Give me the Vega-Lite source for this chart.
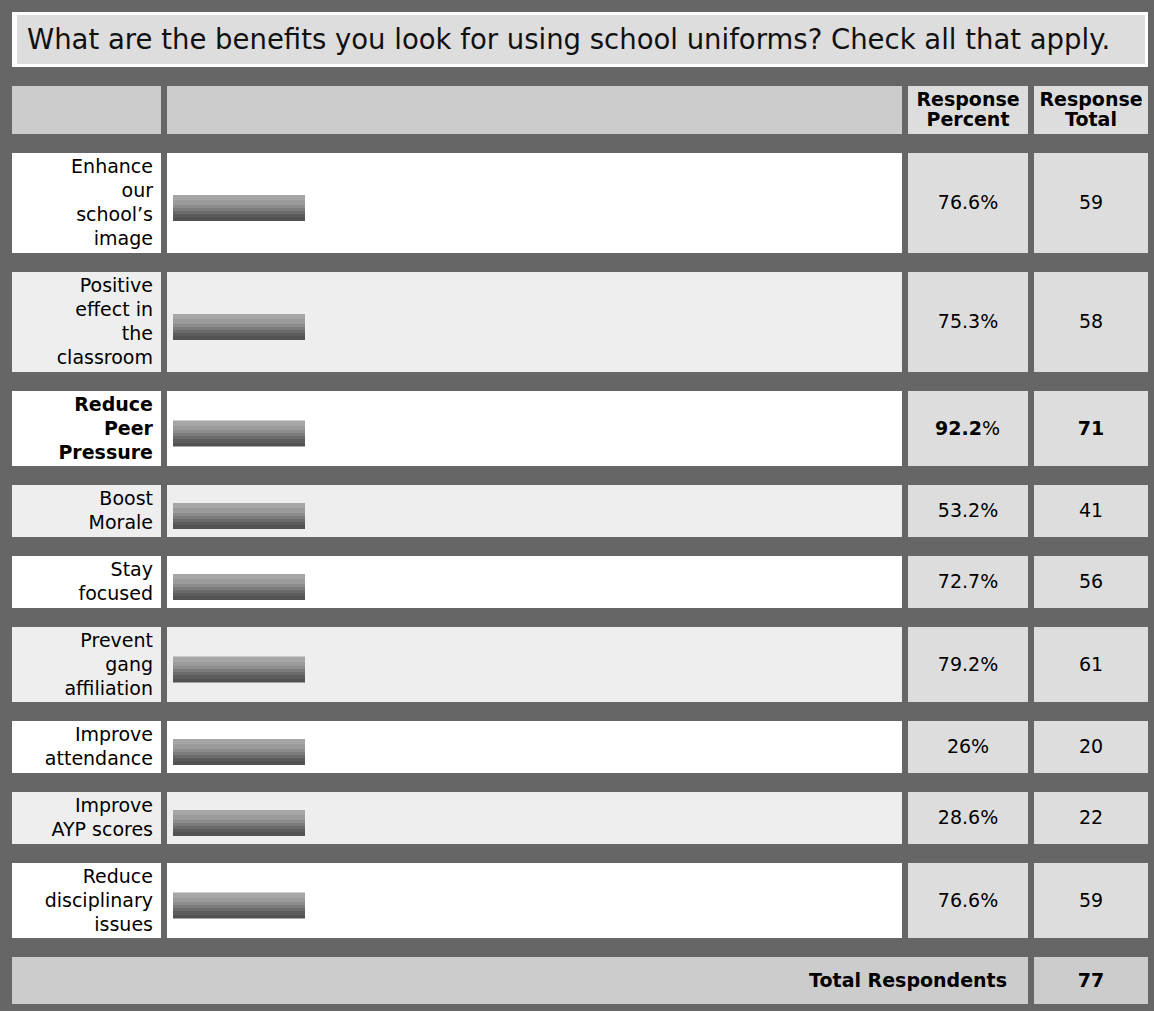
{
  "$schema": "https://vega.github.io/schema/vega-lite/v6.json",
  "background": "#666666",
  "padding": {"left": 12, "top": 12, "right": 6, "bottom": 7},
  "config": {
    "view": {"stroke": null},
    "font": "DejaVu Sans",
    "text": {"font": "DejaVu Sans", "color": "#000000", "fontSize": 19},
    "locale": {"number": {"decimal": ".", "thousands": ",", "grouping": [3], "currency": ["", "%"]}}
  },
  "datasets": {
    "responses": [
      {"order": 1, "answer": "Enhance\nour\nschool’s\nimage", "percent": 76.6, "total": 59},
      {"order": 2, "answer": "Positive\neffect in\nthe\nclassroom", "percent": 75.3, "total": 58},
      {"order": 3, "answer": "Reduce\nPeer\nPressure", "percent": 92.2, "total": 71},
      {"order": 4, "answer": "Boost\nMorale", "percent": 53.2, "total": 41},
      {"order": 5, "answer": "Stay\nfocused", "percent": 72.7, "total": 56},
      {"order": 6, "answer": "Prevent\ngang\naffiliation", "percent": 79.2, "total": 61},
      {"order": 7, "answer": "Improve\nattendance", "percent": 26, "total": 20},
      {"order": 8, "answer": "Improve\nAYP scores", "percent": 28.6, "total": 22},
      {"order": 9, "answer": "Reduce\ndisciplinary\nissues", "percent": 76.6, "total": 59}
    ],
    "summary": [{"label": "Total Respondents", "value": 77}],
    "question": [{"text": "What are the benefits you look for using school uniforms? Check all that apply."}]
  },
  "spacing": 19,
  "vconcat": [
    {"width": 1136, "height": 55, "view": {"fill": "#ffffff", "stroke": null},
     "data": {"name": "question"},
     "layer": [
       {"mark": {"type": "rect", "color": "#dddddd"},
        "encoding": {"x": {"datum": 5, "type": "quantitative", "scale": {"domain": [0, 1136], "nice": false, "zero": false}, "axis": null}, "x2": {"datum": 1133},
                     "y": {"datum": 3, "type": "quantitative", "scale": {"domain": [0, 55], "nice": false, "zero": false, "reverse": true}, "axis": null}, "y2": {"datum": 52}}},
       {"mark": {"type": "text", "align": "left", "baseline": "middle", "fontSize": 27.5, "color": "#111111"},
        "encoding": {"text": {"field": "text", "type": "nominal"},
          "x": {"datum": 15, "type": "quantitative"},
          "y": {"datum": 29, "type": "quantitative"}}}
     ]},
    {"spacing": 6, "hconcat": [
      {"width": 149, "height": 48, "view": {"fill": "#cccccc", "stroke": null}, "data": {"values": [{}]}, "mark": {"type": "text", "text": ""}, "encoding": {"x": {"datum": 0.5, "type": "quantitative", "scale": {"domain": [0, 1]}, "axis": null}, "y": {"datum": 0.5, "type": "quantitative", "scale": {"domain": [0, 1]}, "axis": null}}},
      {"width": 735, "height": 48, "view": {"fill": "#cccccc", "stroke": null}, "data": {"values": [{}]}, "mark": {"type": "text", "text": ""}, "encoding": {"x": {"datum": 0.5, "type": "quantitative", "scale": {"domain": [0, 1]}, "axis": null}, "y": {"datum": 0.5, "type": "quantitative", "scale": {"domain": [0, 1]}, "axis": null}}},
      {"width": 120, "height": 48, "view": {"fill": "#dddddd", "stroke": null}, "data": {"values": [{}]}, "mark": {"type": "text", "text": "Response\nPercent", "lineBreak": "\n", "lineHeight": 20, "dy": -10, "fontSize": 19, "fontWeight": "bold", "align": "center", "baseline": "middle"}, "encoding": {"x": {"datum": 0.5, "type": "quantitative", "scale": {"domain": [0, 1]}, "axis": null}, "y": {"datum": 0.5, "type": "quantitative", "scale": {"domain": [0, 1]}, "axis": null}}},
      {"width": 114, "height": 48, "view": {"fill": "#dddddd", "stroke": null}, "data": {"values": [{}]}, "mark": {"type": "text", "text": "Response\nTotal", "lineBreak": "\n", "lineHeight": 20, "dy": -10, "fontSize": 19, "fontWeight": "bold", "align": "center", "baseline": "middle"}, "encoding": {"x": {"datum": 0.5, "type": "quantitative", "scale": {"domain": [0, 1]}, "axis": null}, "y": {"datum": 0.5, "type": "quantitative", "scale": {"domain": [0, 1]}, "axis": null}}}
    ]},
    {"spacing": 6, "hconcat": [
      {"width": 149, "height": 100, "view": {"fill": "#ffffff", "stroke": null}, "data": {"name": "responses"}, "transform": [{"filter": "datum.order == 1"}], "mark": {"type": "text", "align": "right", "baseline": "middle", "dx": -8, "dy": -36, "lineBreak": "\n", "lineHeight": 24}, "encoding": {"text": {"field": "answer", "type": "nominal"}, "x": {"datum": 1, "type": "quantitative", "scale": {"domain": [0, 1]}, "axis": null}, "y": {"datum": 0.5, "type": "quantitative", "scale": {"domain": [0, 1]}, "axis": null}}},
      {"width": 735, "height": 100, "view": {"fill": "#ffffff", "stroke": null}, "data": {"name": "responses"}, "transform": [{"filter": "datum.order == 1"}], "mark": {"type": "rect", "color": {"gradient": "linear", "x1": 0, "y1": 0, "x2": 0, "y2": 1, "stops": [{"offset": 0, "color": "#a6a6a6"}, {"offset": 0.2, "color": "#a6a6a6"}, {"offset": 0.2, "color": "#9b9b9b"}, {"offset": 0.37, "color": "#9b9b9b"}, {"offset": 0.37, "color": "#8d8d8d"}, {"offset": 0.5, "color": "#8d8d8d"}, {"offset": 0.5, "color": "#7c7c7c"}, {"offset": 0.6, "color": "#7c7c7c"}, {"offset": 0.6, "color": "#6b6b6b"}, {"offset": 0.72, "color": "#6b6b6b"}, {"offset": 0.72, "color": "#5c5c5c"}, {"offset": 0.85, "color": "#5c5c5c"}, {"offset": 0.85, "color": "#525252"}, {"offset": 1, "color": "#525252"}]}}, "encoding": {"x": {"datum": 0, "type": "quantitative", "scale": {"domain": [0, 1], "range": [6, 138]}, "axis": null}, "x2": {"datum": 1}, "y": {"datum": 0.42, "type": "quantitative", "scale": {"domain": [0, 1], "reverse": true}, "axis": null}, "y2": {"datum": 0.68}}},
      {"width": 120, "height": 100, "view": {"fill": "#dddddd", "stroke": null}, "data": {"name": "responses"}, "transform": [{"filter": "datum.order == 1"}], "mark": {"type": "text", "align": "center", "baseline": "middle"}, "encoding": {"text": {"field": "percent", "type": "quantitative", "format": "$.1~f"}, "x": {"datum": 0.5, "type": "quantitative", "scale": {"domain": [0, 1]}, "axis": null}, "y": {"datum": 0.5, "type": "quantitative", "scale": {"domain": [0, 1]}, "axis": null}}},
      {"width": 114, "height": 100, "view": {"fill": "#dddddd", "stroke": null}, "data": {"name": "responses"}, "transform": [{"filter": "datum.order == 1"}], "mark": {"type": "text", "align": "center", "baseline": "middle"}, "encoding": {"text": {"field": "total", "type": "quantitative"}, "x": {"datum": 0.5, "type": "quantitative", "scale": {"domain": [0, 1]}, "axis": null}, "y": {"datum": 0.5, "type": "quantitative", "scale": {"domain": [0, 1]}, "axis": null}}}
    ]},
    {"spacing": 6, "hconcat": [
      {"width": 149, "height": 100, "view": {"fill": "#eeeeee", "stroke": null}, "data": {"name": "responses"}, "transform": [{"filter": "datum.order == 2"}], "mark": {"type": "text", "align": "right", "baseline": "middle", "dx": -8, "dy": -36, "lineBreak": "\n", "lineHeight": 24}, "encoding": {"text": {"field": "answer", "type": "nominal"}, "x": {"datum": 1, "type": "quantitative", "scale": {"domain": [0, 1]}, "axis": null}, "y": {"datum": 0.5, "type": "quantitative", "scale": {"domain": [0, 1]}, "axis": null}}},
      {"width": 735, "height": 100, "view": {"fill": "#eeeeee", "stroke": null}, "data": {"name": "responses"}, "transform": [{"filter": "datum.order == 2"}], "mark": {"type": "rect", "color": {"gradient": "linear", "x1": 0, "y1": 0, "x2": 0, "y2": 1, "stops": [{"offset": 0, "color": "#a6a6a6"}, {"offset": 0.2, "color": "#a6a6a6"}, {"offset": 0.2, "color": "#9b9b9b"}, {"offset": 0.37, "color": "#9b9b9b"}, {"offset": 0.37, "color": "#8d8d8d"}, {"offset": 0.5, "color": "#8d8d8d"}, {"offset": 0.5, "color": "#7c7c7c"}, {"offset": 0.6, "color": "#7c7c7c"}, {"offset": 0.6, "color": "#6b6b6b"}, {"offset": 0.72, "color": "#6b6b6b"}, {"offset": 0.72, "color": "#5c5c5c"}, {"offset": 0.85, "color": "#5c5c5c"}, {"offset": 0.85, "color": "#525252"}, {"offset": 1, "color": "#525252"}]}}, "encoding": {"x": {"datum": 0, "type": "quantitative", "scale": {"domain": [0, 1], "range": [6, 138]}, "axis": null}, "x2": {"datum": 1}, "y": {"datum": 0.42, "type": "quantitative", "scale": {"domain": [0, 1], "reverse": true}, "axis": null}, "y2": {"datum": 0.68}}},
      {"width": 120, "height": 100, "view": {"fill": "#dddddd", "stroke": null}, "data": {"name": "responses"}, "transform": [{"filter": "datum.order == 2"}], "mark": {"type": "text", "align": "center", "baseline": "middle"}, "encoding": {"text": {"field": "percent", "type": "quantitative", "format": "$.1~f"}, "x": {"datum": 0.5, "type": "quantitative", "scale": {"domain": [0, 1]}, "axis": null}, "y": {"datum": 0.5, "type": "quantitative", "scale": {"domain": [0, 1]}, "axis": null}}},
      {"width": 114, "height": 100, "view": {"fill": "#dddddd", "stroke": null}, "data": {"name": "responses"}, "transform": [{"filter": "datum.order == 2"}], "mark": {"type": "text", "align": "center", "baseline": "middle"}, "encoding": {"text": {"field": "total", "type": "quantitative"}, "x": {"datum": 0.5, "type": "quantitative", "scale": {"domain": [0, 1]}, "axis": null}, "y": {"datum": 0.5, "type": "quantitative", "scale": {"domain": [0, 1]}, "axis": null}}}
    ]},
    {"spacing": 6, "hconcat": [
      {"width": 149, "height": 75, "view": {"fill": "#ffffff", "stroke": null}, "data": {"name": "responses"}, "transform": [{"filter": "datum.order == 3"}], "mark": {"type": "text", "align": "right", "baseline": "middle", "dx": -8, "dy": -24, "lineBreak": "\n", "lineHeight": 24, "fontWeight": "bold"}, "encoding": {"text": {"field": "answer", "type": "nominal"}, "x": {"datum": 1, "type": "quantitative", "scale": {"domain": [0, 1]}, "axis": null}, "y": {"datum": 0.5, "type": "quantitative", "scale": {"domain": [0, 1]}, "axis": null}}},
      {"width": 735, "height": 75, "view": {"fill": "#ffffff", "stroke": null}, "data": {"name": "responses"}, "transform": [{"filter": "datum.order == 3"}], "mark": {"type": "rect", "color": {"gradient": "linear", "x1": 0, "y1": 0, "x2": 0, "y2": 1, "stops": [{"offset": 0, "color": "#a6a6a6"}, {"offset": 0.2, "color": "#a6a6a6"}, {"offset": 0.2, "color": "#9b9b9b"}, {"offset": 0.37, "color": "#9b9b9b"}, {"offset": 0.37, "color": "#8d8d8d"}, {"offset": 0.5, "color": "#8d8d8d"}, {"offset": 0.5, "color": "#7c7c7c"}, {"offset": 0.6, "color": "#7c7c7c"}, {"offset": 0.6, "color": "#6b6b6b"}, {"offset": 0.72, "color": "#6b6b6b"}, {"offset": 0.72, "color": "#5c5c5c"}, {"offset": 0.85, "color": "#5c5c5c"}, {"offset": 0.85, "color": "#525252"}, {"offset": 1, "color": "#525252"}]}}, "encoding": {"x": {"datum": 0, "type": "quantitative", "scale": {"domain": [0, 1], "range": [6, 138]}, "axis": null}, "x2": {"datum": 1}, "y": {"datum": 0.3933, "type": "quantitative", "scale": {"domain": [0, 1], "reverse": true}, "axis": null}, "y2": {"datum": 0.74}}},
      {"width": 120, "height": 75, "view": {"fill": "#dddddd", "stroke": null}, "data": {"name": "responses"}, "transform": [{"filter": "datum.order == 3"}], "encoding": {"x": {"datum": 0.5, "type": "quantitative", "scale": {"domain": [0, 1]}, "axis": null}, "y": {"datum": 0.5, "type": "quantitative", "scale": {"domain": [0, 1]}, "axis": null}}, "layer": [
        {"mark": {"type": "text", "align": "right", "baseline": "middle", "dx": 14, "fontWeight": "bold"}, "encoding": {"text": {"field": "percent", "type": "quantitative", "format": ".1~f"}}},
        {"mark": {"type": "text", "align": "left", "baseline": "middle", "dx": 14, "text": "%"}, "encoding": {}}
      ]},
      {"width": 114, "height": 75, "view": {"fill": "#dddddd", "stroke": null}, "data": {"name": "responses"}, "transform": [{"filter": "datum.order == 3"}], "mark": {"type": "text", "align": "center", "baseline": "middle", "fontWeight": "bold"}, "encoding": {"text": {"field": "total", "type": "quantitative"}, "x": {"datum": 0.5, "type": "quantitative", "scale": {"domain": [0, 1]}, "axis": null}, "y": {"datum": 0.5, "type": "quantitative", "scale": {"domain": [0, 1]}, "axis": null}}}
    ]},
    {"spacing": 6, "hconcat": [
      {"width": 149, "height": 52, "view": {"fill": "#eeeeee", "stroke": null}, "data": {"name": "responses"}, "transform": [{"filter": "datum.order == 4"}], "mark": {"type": "text", "align": "right", "baseline": "middle", "dx": -8, "dy": -12, "lineBreak": "\n", "lineHeight": 24}, "encoding": {"text": {"field": "answer", "type": "nominal"}, "x": {"datum": 1, "type": "quantitative", "scale": {"domain": [0, 1]}, "axis": null}, "y": {"datum": 0.5, "type": "quantitative", "scale": {"domain": [0, 1]}, "axis": null}}},
      {"width": 735, "height": 52, "view": {"fill": "#eeeeee", "stroke": null}, "data": {"name": "responses"}, "transform": [{"filter": "datum.order == 4"}], "mark": {"type": "rect", "color": {"gradient": "linear", "x1": 0, "y1": 0, "x2": 0, "y2": 1, "stops": [{"offset": 0, "color": "#a6a6a6"}, {"offset": 0.2, "color": "#a6a6a6"}, {"offset": 0.2, "color": "#9b9b9b"}, {"offset": 0.37, "color": "#9b9b9b"}, {"offset": 0.37, "color": "#8d8d8d"}, {"offset": 0.5, "color": "#8d8d8d"}, {"offset": 0.5, "color": "#7c7c7c"}, {"offset": 0.6, "color": "#7c7c7c"}, {"offset": 0.6, "color": "#6b6b6b"}, {"offset": 0.72, "color": "#6b6b6b"}, {"offset": 0.72, "color": "#5c5c5c"}, {"offset": 0.85, "color": "#5c5c5c"}, {"offset": 0.85, "color": "#525252"}, {"offset": 1, "color": "#525252"}]}}, "encoding": {"x": {"datum": 0, "type": "quantitative", "scale": {"domain": [0, 1], "range": [6, 138]}, "axis": null}, "x2": {"datum": 1}, "y": {"datum": 0.3462, "type": "quantitative", "scale": {"domain": [0, 1], "reverse": true}, "axis": null}, "y2": {"datum": 0.8462}}},
      {"width": 120, "height": 52, "view": {"fill": "#dddddd", "stroke": null}, "data": {"name": "responses"}, "transform": [{"filter": "datum.order == 4"}], "mark": {"type": "text", "align": "center", "baseline": "middle"}, "encoding": {"text": {"field": "percent", "type": "quantitative", "format": "$.1~f"}, "x": {"datum": 0.5, "type": "quantitative", "scale": {"domain": [0, 1]}, "axis": null}, "y": {"datum": 0.5, "type": "quantitative", "scale": {"domain": [0, 1]}, "axis": null}}},
      {"width": 114, "height": 52, "view": {"fill": "#dddddd", "stroke": null}, "data": {"name": "responses"}, "transform": [{"filter": "datum.order == 4"}], "mark": {"type": "text", "align": "center", "baseline": "middle"}, "encoding": {"text": {"field": "total", "type": "quantitative"}, "x": {"datum": 0.5, "type": "quantitative", "scale": {"domain": [0, 1]}, "axis": null}, "y": {"datum": 0.5, "type": "quantitative", "scale": {"domain": [0, 1]}, "axis": null}}}
    ]},
    {"spacing": 6, "hconcat": [
      {"width": 149, "height": 52, "view": {"fill": "#ffffff", "stroke": null}, "data": {"name": "responses"}, "transform": [{"filter": "datum.order == 5"}], "mark": {"type": "text", "align": "right", "baseline": "middle", "dx": -8, "dy": -12, "lineBreak": "\n", "lineHeight": 24}, "encoding": {"text": {"field": "answer", "type": "nominal"}, "x": {"datum": 1, "type": "quantitative", "scale": {"domain": [0, 1]}, "axis": null}, "y": {"datum": 0.5, "type": "quantitative", "scale": {"domain": [0, 1]}, "axis": null}}},
      {"width": 735, "height": 52, "view": {"fill": "#ffffff", "stroke": null}, "data": {"name": "responses"}, "transform": [{"filter": "datum.order == 5"}], "mark": {"type": "rect", "color": {"gradient": "linear", "x1": 0, "y1": 0, "x2": 0, "y2": 1, "stops": [{"offset": 0, "color": "#a6a6a6"}, {"offset": 0.2, "color": "#a6a6a6"}, {"offset": 0.2, "color": "#9b9b9b"}, {"offset": 0.37, "color": "#9b9b9b"}, {"offset": 0.37, "color": "#8d8d8d"}, {"offset": 0.5, "color": "#8d8d8d"}, {"offset": 0.5, "color": "#7c7c7c"}, {"offset": 0.6, "color": "#7c7c7c"}, {"offset": 0.6, "color": "#6b6b6b"}, {"offset": 0.72, "color": "#6b6b6b"}, {"offset": 0.72, "color": "#5c5c5c"}, {"offset": 0.85, "color": "#5c5c5c"}, {"offset": 0.85, "color": "#525252"}, {"offset": 1, "color": "#525252"}]}}, "encoding": {"x": {"datum": 0, "type": "quantitative", "scale": {"domain": [0, 1], "range": [6, 138]}, "axis": null}, "x2": {"datum": 1}, "y": {"datum": 0.3462, "type": "quantitative", "scale": {"domain": [0, 1], "reverse": true}, "axis": null}, "y2": {"datum": 0.8462}}},
      {"width": 120, "height": 52, "view": {"fill": "#dddddd", "stroke": null}, "data": {"name": "responses"}, "transform": [{"filter": "datum.order == 5"}], "mark": {"type": "text", "align": "center", "baseline": "middle"}, "encoding": {"text": {"field": "percent", "type": "quantitative", "format": "$.1~f"}, "x": {"datum": 0.5, "type": "quantitative", "scale": {"domain": [0, 1]}, "axis": null}, "y": {"datum": 0.5, "type": "quantitative", "scale": {"domain": [0, 1]}, "axis": null}}},
      {"width": 114, "height": 52, "view": {"fill": "#dddddd", "stroke": null}, "data": {"name": "responses"}, "transform": [{"filter": "datum.order == 5"}], "mark": {"type": "text", "align": "center", "baseline": "middle"}, "encoding": {"text": {"field": "total", "type": "quantitative"}, "x": {"datum": 0.5, "type": "quantitative", "scale": {"domain": [0, 1]}, "axis": null}, "y": {"datum": 0.5, "type": "quantitative", "scale": {"domain": [0, 1]}, "axis": null}}}
    ]},
    {"spacing": 6, "hconcat": [
      {"width": 149, "height": 75, "view": {"fill": "#eeeeee", "stroke": null}, "data": {"name": "responses"}, "transform": [{"filter": "datum.order == 6"}], "mark": {"type": "text", "align": "right", "baseline": "middle", "dx": -8, "dy": -24, "lineBreak": "\n", "lineHeight": 24}, "encoding": {"text": {"field": "answer", "type": "nominal"}, "x": {"datum": 1, "type": "quantitative", "scale": {"domain": [0, 1]}, "axis": null}, "y": {"datum": 0.5, "type": "quantitative", "scale": {"domain": [0, 1]}, "axis": null}}},
      {"width": 735, "height": 75, "view": {"fill": "#eeeeee", "stroke": null}, "data": {"name": "responses"}, "transform": [{"filter": "datum.order == 6"}], "mark": {"type": "rect", "color": {"gradient": "linear", "x1": 0, "y1": 0, "x2": 0, "y2": 1, "stops": [{"offset": 0, "color": "#a6a6a6"}, {"offset": 0.2, "color": "#a6a6a6"}, {"offset": 0.2, "color": "#9b9b9b"}, {"offset": 0.37, "color": "#9b9b9b"}, {"offset": 0.37, "color": "#8d8d8d"}, {"offset": 0.5, "color": "#8d8d8d"}, {"offset": 0.5, "color": "#7c7c7c"}, {"offset": 0.6, "color": "#7c7c7c"}, {"offset": 0.6, "color": "#6b6b6b"}, {"offset": 0.72, "color": "#6b6b6b"}, {"offset": 0.72, "color": "#5c5c5c"}, {"offset": 0.85, "color": "#5c5c5c"}, {"offset": 0.85, "color": "#525252"}, {"offset": 1, "color": "#525252"}]}}, "encoding": {"x": {"datum": 0, "type": "quantitative", "scale": {"domain": [0, 1], "range": [6, 138]}, "axis": null}, "x2": {"datum": 1}, "y": {"datum": 0.3933, "type": "quantitative", "scale": {"domain": [0, 1], "reverse": true}, "axis": null}, "y2": {"datum": 0.74}}},
      {"width": 120, "height": 75, "view": {"fill": "#dddddd", "stroke": null}, "data": {"name": "responses"}, "transform": [{"filter": "datum.order == 6"}], "mark": {"type": "text", "align": "center", "baseline": "middle"}, "encoding": {"text": {"field": "percent", "type": "quantitative", "format": "$.1~f"}, "x": {"datum": 0.5, "type": "quantitative", "scale": {"domain": [0, 1]}, "axis": null}, "y": {"datum": 0.5, "type": "quantitative", "scale": {"domain": [0, 1]}, "axis": null}}},
      {"width": 114, "height": 75, "view": {"fill": "#dddddd", "stroke": null}, "data": {"name": "responses"}, "transform": [{"filter": "datum.order == 6"}], "mark": {"type": "text", "align": "center", "baseline": "middle"}, "encoding": {"text": {"field": "total", "type": "quantitative"}, "x": {"datum": 0.5, "type": "quantitative", "scale": {"domain": [0, 1]}, "axis": null}, "y": {"datum": 0.5, "type": "quantitative", "scale": {"domain": [0, 1]}, "axis": null}}}
    ]},
    {"spacing": 6, "hconcat": [
      {"width": 149, "height": 52, "view": {"fill": "#ffffff", "stroke": null}, "data": {"name": "responses"}, "transform": [{"filter": "datum.order == 7"}], "mark": {"type": "text", "align": "right", "baseline": "middle", "dx": -8, "dy": -12, "lineBreak": "\n", "lineHeight": 24}, "encoding": {"text": {"field": "answer", "type": "nominal"}, "x": {"datum": 1, "type": "quantitative", "scale": {"domain": [0, 1]}, "axis": null}, "y": {"datum": 0.5, "type": "quantitative", "scale": {"domain": [0, 1]}, "axis": null}}},
      {"width": 735, "height": 52, "view": {"fill": "#ffffff", "stroke": null}, "data": {"name": "responses"}, "transform": [{"filter": "datum.order == 7"}], "mark": {"type": "rect", "color": {"gradient": "linear", "x1": 0, "y1": 0, "x2": 0, "y2": 1, "stops": [{"offset": 0, "color": "#a6a6a6"}, {"offset": 0.2, "color": "#a6a6a6"}, {"offset": 0.2, "color": "#9b9b9b"}, {"offset": 0.37, "color": "#9b9b9b"}, {"offset": 0.37, "color": "#8d8d8d"}, {"offset": 0.5, "color": "#8d8d8d"}, {"offset": 0.5, "color": "#7c7c7c"}, {"offset": 0.6, "color": "#7c7c7c"}, {"offset": 0.6, "color": "#6b6b6b"}, {"offset": 0.72, "color": "#6b6b6b"}, {"offset": 0.72, "color": "#5c5c5c"}, {"offset": 0.85, "color": "#5c5c5c"}, {"offset": 0.85, "color": "#525252"}, {"offset": 1, "color": "#525252"}]}}, "encoding": {"x": {"datum": 0, "type": "quantitative", "scale": {"domain": [0, 1], "range": [6, 138]}, "axis": null}, "x2": {"datum": 1}, "y": {"datum": 0.3462, "type": "quantitative", "scale": {"domain": [0, 1], "reverse": true}, "axis": null}, "y2": {"datum": 0.8462}}},
      {"width": 120, "height": 52, "view": {"fill": "#dddddd", "stroke": null}, "data": {"name": "responses"}, "transform": [{"filter": "datum.order == 7"}], "mark": {"type": "text", "align": "center", "baseline": "middle"}, "encoding": {"text": {"field": "percent", "type": "quantitative", "format": "$.1~f"}, "x": {"datum": 0.5, "type": "quantitative", "scale": {"domain": [0, 1]}, "axis": null}, "y": {"datum": 0.5, "type": "quantitative", "scale": {"domain": [0, 1]}, "axis": null}}},
      {"width": 114, "height": 52, "view": {"fill": "#dddddd", "stroke": null}, "data": {"name": "responses"}, "transform": [{"filter": "datum.order == 7"}], "mark": {"type": "text", "align": "center", "baseline": "middle"}, "encoding": {"text": {"field": "total", "type": "quantitative"}, "x": {"datum": 0.5, "type": "quantitative", "scale": {"domain": [0, 1]}, "axis": null}, "y": {"datum": 0.5, "type": "quantitative", "scale": {"domain": [0, 1]}, "axis": null}}}
    ]},
    {"spacing": 6, "hconcat": [
      {"width": 149, "height": 52, "view": {"fill": "#eeeeee", "stroke": null}, "data": {"name": "responses"}, "transform": [{"filter": "datum.order == 8"}], "mark": {"type": "text", "align": "right", "baseline": "middle", "dx": -8, "dy": -12, "lineBreak": "\n", "lineHeight": 24}, "encoding": {"text": {"field": "answer", "type": "nominal"}, "x": {"datum": 1, "type": "quantitative", "scale": {"domain": [0, 1]}, "axis": null}, "y": {"datum": 0.5, "type": "quantitative", "scale": {"domain": [0, 1]}, "axis": null}}},
      {"width": 735, "height": 52, "view": {"fill": "#eeeeee", "stroke": null}, "data": {"name": "responses"}, "transform": [{"filter": "datum.order == 8"}], "mark": {"type": "rect", "color": {"gradient": "linear", "x1": 0, "y1": 0, "x2": 0, "y2": 1, "stops": [{"offset": 0, "color": "#a6a6a6"}, {"offset": 0.2, "color": "#a6a6a6"}, {"offset": 0.2, "color": "#9b9b9b"}, {"offset": 0.37, "color": "#9b9b9b"}, {"offset": 0.37, "color": "#8d8d8d"}, {"offset": 0.5, "color": "#8d8d8d"}, {"offset": 0.5, "color": "#7c7c7c"}, {"offset": 0.6, "color": "#7c7c7c"}, {"offset": 0.6, "color": "#6b6b6b"}, {"offset": 0.72, "color": "#6b6b6b"}, {"offset": 0.72, "color": "#5c5c5c"}, {"offset": 0.85, "color": "#5c5c5c"}, {"offset": 0.85, "color": "#525252"}, {"offset": 1, "color": "#525252"}]}}, "encoding": {"x": {"datum": 0, "type": "quantitative", "scale": {"domain": [0, 1], "range": [6, 138]}, "axis": null}, "x2": {"datum": 1}, "y": {"datum": 0.3462, "type": "quantitative", "scale": {"domain": [0, 1], "reverse": true}, "axis": null}, "y2": {"datum": 0.8462}}},
      {"width": 120, "height": 52, "view": {"fill": "#dddddd", "stroke": null}, "data": {"name": "responses"}, "transform": [{"filter": "datum.order == 8"}], "mark": {"type": "text", "align": "center", "baseline": "middle"}, "encoding": {"text": {"field": "percent", "type": "quantitative", "format": "$.1~f"}, "x": {"datum": 0.5, "type": "quantitative", "scale": {"domain": [0, 1]}, "axis": null}, "y": {"datum": 0.5, "type": "quantitative", "scale": {"domain": [0, 1]}, "axis": null}}},
      {"width": 114, "height": 52, "view": {"fill": "#dddddd", "stroke": null}, "data": {"name": "responses"}, "transform": [{"filter": "datum.order == 8"}], "mark": {"type": "text", "align": "center", "baseline": "middle"}, "encoding": {"text": {"field": "total", "type": "quantitative"}, "x": {"datum": 0.5, "type": "quantitative", "scale": {"domain": [0, 1]}, "axis": null}, "y": {"datum": 0.5, "type": "quantitative", "scale": {"domain": [0, 1]}, "axis": null}}}
    ]},
    {"spacing": 6, "hconcat": [
      {"width": 149, "height": 75, "view": {"fill": "#ffffff", "stroke": null}, "data": {"name": "responses"}, "transform": [{"filter": "datum.order == 9"}], "mark": {"type": "text", "align": "right", "baseline": "middle", "dx": -8, "dy": -24, "lineBreak": "\n", "lineHeight": 24}, "encoding": {"text": {"field": "answer", "type": "nominal"}, "x": {"datum": 1, "type": "quantitative", "scale": {"domain": [0, 1]}, "axis": null}, "y": {"datum": 0.5, "type": "quantitative", "scale": {"domain": [0, 1]}, "axis": null}}},
      {"width": 735, "height": 75, "view": {"fill": "#ffffff", "stroke": null}, "data": {"name": "responses"}, "transform": [{"filter": "datum.order == 9"}], "mark": {"type": "rect", "color": {"gradient": "linear", "x1": 0, "y1": 0, "x2": 0, "y2": 1, "stops": [{"offset": 0, "color": "#a6a6a6"}, {"offset": 0.2, "color": "#a6a6a6"}, {"offset": 0.2, "color": "#9b9b9b"}, {"offset": 0.37, "color": "#9b9b9b"}, {"offset": 0.37, "color": "#8d8d8d"}, {"offset": 0.5, "color": "#8d8d8d"}, {"offset": 0.5, "color": "#7c7c7c"}, {"offset": 0.6, "color": "#7c7c7c"}, {"offset": 0.6, "color": "#6b6b6b"}, {"offset": 0.72, "color": "#6b6b6b"}, {"offset": 0.72, "color": "#5c5c5c"}, {"offset": 0.85, "color": "#5c5c5c"}, {"offset": 0.85, "color": "#525252"}, {"offset": 1, "color": "#525252"}]}}, "encoding": {"x": {"datum": 0, "type": "quantitative", "scale": {"domain": [0, 1], "range": [6, 138]}, "axis": null}, "x2": {"datum": 1}, "y": {"datum": 0.3933, "type": "quantitative", "scale": {"domain": [0, 1], "reverse": true}, "axis": null}, "y2": {"datum": 0.74}}},
      {"width": 120, "height": 75, "view": {"fill": "#dddddd", "stroke": null}, "data": {"name": "responses"}, "transform": [{"filter": "datum.order == 9"}], "mark": {"type": "text", "align": "center", "baseline": "middle"}, "encoding": {"text": {"field": "percent", "type": "quantitative", "format": "$.1~f"}, "x": {"datum": 0.5, "type": "quantitative", "scale": {"domain": [0, 1]}, "axis": null}, "y": {"datum": 0.5, "type": "quantitative", "scale": {"domain": [0, 1]}, "axis": null}}},
      {"width": 114, "height": 75, "view": {"fill": "#dddddd", "stroke": null}, "data": {"name": "responses"}, "transform": [{"filter": "datum.order == 9"}], "mark": {"type": "text", "align": "center", "baseline": "middle"}, "encoding": {"text": {"field": "total", "type": "quantitative"}, "x": {"datum": 0.5, "type": "quantitative", "scale": {"domain": [0, 1]}, "axis": null}, "y": {"datum": 0.5, "type": "quantitative", "scale": {"domain": [0, 1]}, "axis": null}}}
    ]},
    {"spacing": 6, "hconcat": [
      {"width": 1016, "height": 47, "view": {"fill": "#cccccc", "stroke": null}, "data": {"name": "summary"}, "mark": {"type": "text", "align": "right", "baseline": "middle", "dx": -21, "fontWeight": "bold"}, "encoding": {"text": {"field": "label", "type": "nominal"}, "x": {"datum": 1, "type": "quantitative", "scale": {"domain": [0, 1]}, "axis": null}, "y": {"datum": 0.5, "type": "quantitative", "scale": {"domain": [0, 1]}, "axis": null}}},
      {"width": 114, "height": 47, "view": {"fill": "#cccccc", "stroke": null}, "data": {"name": "summary"}, "mark": {"type": "text", "align": "center", "baseline": "middle", "fontWeight": "bold"}, "encoding": {"text": {"field": "value", "type": "quantitative"}, "x": {"datum": 0.5, "type": "quantitative", "scale": {"domain": [0, 1]}, "axis": null}, "y": {"datum": 0.5, "type": "quantitative", "scale": {"domain": [0, 1]}, "axis": null}}}
    ]}
  ]
}
